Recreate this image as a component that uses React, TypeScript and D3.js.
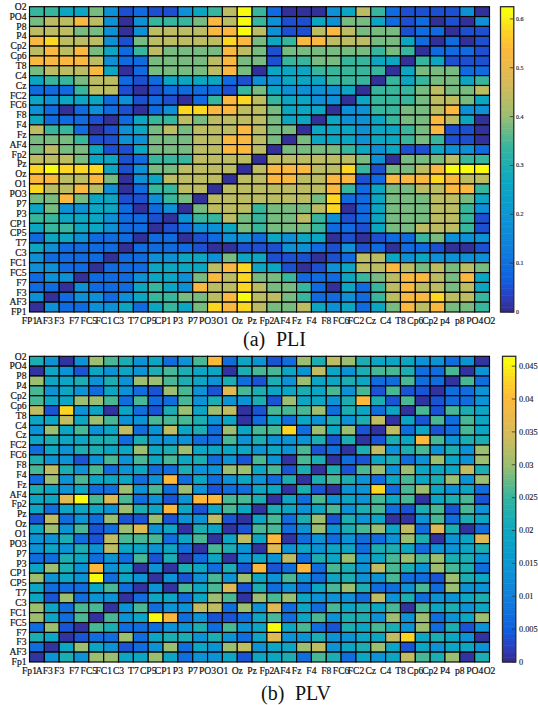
import React from "react";
import * as d3 from "d3";

const pliAxisX = ["FP1","AF3","F3","F7","FC5","FC1","C3","T7","CP5","CP1","P3","P7","PO3","O1","Oz","Pz","Fp2","AF4","Fz","F4","F8","FC6","FC2","Cz","C4","T8","Cp6","Cp2","p4","p8","PO4","O2"];
const pliAxisY = ["O2","PO4","P8","P4","Cp2","Cp6","T8","C4","Cz","FC2","FC6","F8","F4","Fz","AF4","Fp2","Pz","Oz","O1","PO3","P7","P3","CP1","CP5","T7","C3","FC1","FC5","F7","F3","AF3","FP1"];
const plvAxisX = ["Fp1","AF3","F3","F7","FC5","FC1","C3","T7","CP5","CP1","P3","P7","PO3","O1","Oz","Pz","Fp2","AF4","Fz","F4","F8","FC6","FC2","Cz","C4","T8","Cp6","Cp2","P4","p8","PO4","O2"];
const plvAxisY = ["O2","PO4","P8","P4","Cp2","Cp6","T8","C4","Cz","FC2","FC6","F8","F4","Fz","AF4","Fp2","Pz","Oz","O1","PO3","P7","P3","CP1","CP5","T7","C3","FC1","FC5","F7","F3","AF3","Fp1"];

const pliTicks = [0, 0.1, 0.2, 0.3, 0.4, 0.5, 0.6];
const plvTicks = [0, 0.005, 0.01, 0.015, 0.02, 0.025, 0.03, 0.035, 0.04, 0.045];

const pliRows = [
[.34,.34,.26,.26,.38,.18,.05,.09,.05,.05,.18,.26,.34,.44,.62,.34,.09,.01,.01,.01,.18,.26,.44,.34,.09,.05,.05,.05,.05,.18,.01],
[.38,.44,.44,.53,.44,.18,.01,.18,.34,.34,.34,.38,.53,.44,.62,.34,.18,.05,.05,.26,.18,.38,.38,.26,.09,.05,.09,.01,.05,.01,.18],
[.44,.44,.44,.38,.38,.18,.01,.18,.44,.44,.44,.44,.53,.53,.62,.44,.18,.05,.05,.44,.53,.44,.38,.38,.38,.05,.09,.09,.01,.05,.05],
[.53,.58,.44,.44,.44,.18,.05,.38,.44,.44,.44,.44,.44,.58,.53,.38,.26,.34,.53,.53,.44,.44,.44,.38,.38,.26,.09,.01,.09,.01,.05],
[.44,.53,.44,.53,.38,.26,.09,.34,.44,.38,.38,.38,.38,.53,.44,.38,.05,.38,.38,.38,.38,.38,.38,.34,.38,.34,.01,.09,.09,.09,.05],
[.53,.53,.53,.53,.44,.18,.09,.09,.38,.38,.38,.38,.44,.53,.38,.38,.05,.34,.34,.38,.38,.34,.34,.26,.26,.01,.34,.26,.05,.05,.05],
[.38,.44,.44,.44,.53,.26,.01,.09,.38,.38,.38,.38,.44,.53,.38,.01,.26,.26,.26,.34,.34,.34,.34,.34,.01,.26,.38,.38,.38,.09,.09],
[.26,.34,.34,.38,.44,.44,.09,.05,.09,.26,.26,.26,.26,.09,.05,.18,.18,.26,.26,.26,.34,.34,.34,.01,.34,.26,.34,.38,.38,.26,.34],
[.09,.09,.09,.34,.44,.44,.05,.01,.05,.09,.09,.09,.09,.05,.34,.38,.26,.18,.18,.18,.18,.26,.01,.34,.34,.34,.38,.44,.38,.38,.44],
[.26,.18,.26,.26,.26,.09,.18,.05,.09,.05,.01,.09,.34,.53,.58,.44,.34,.26,.26,.18,.18,.01,.26,.34,.34,.34,.38,.44,.44,.38,.26],
[.18,.09,.01,.09,.18,.09,.05,.01,.09,.18,.58,.58,.53,.53,.44,.44,.38,.26,.26,.26,.01,.18,.18,.34,.34,.38,.38,.44,.53,.18,.18],
[.26,.09,.09,.09,.05,.01,.09,.26,.34,.34,.44,.38,.44,.44,.44,.44,.38,.26,.26,.01,.26,.18,.18,.26,.34,.38,.38,.53,.44,.26,.01],
[.44,.34,.34,.09,.01,.05,.18,.26,.38,.44,.38,.44,.44,.44,.53,.44,.38,.38,.01,.26,.26,.26,.18,.26,.26,.34,.38,.53,.05,.05,.01],
[.38,.38,.38,.34,.05,.05,.18,.18,.38,.38,.38,.44,.44,.53,.53,.44,.38,.01,.38,.26,.26,.26,.18,.26,.26,.34,.38,.34,.05,.05,.01],
[.38,.44,.38,.38,.26,.05,.05,.26,.38,.38,.38,.44,.44,.53,.53,.44,.01,.38,.38,.38,.38,.34,.26,.18,.26,.05,.05,.26,.18,.18,.09],
[.44,.44,.44,.38,.26,.26,.05,.09,.34,.34,.34,.44,.44,.44,.44,.01,.44,.44,.44,.44,.44,.44,.38,.18,.01,.38,.38,.38,.44,.34,.34],
[.58,.62,.58,.58,.58,.26,.05,.18,.38,.38,.44,.44,.44,.44,.01,.44,.53,.53,.53,.44,.44,.58,.34,.05,.38,.38,.44,.53,.62,.62,.62],
[.53,.53,.44,.44,.53,.38,.01,.18,.26,.44,.44,.44,.44,.01,.44,.44,.53,.53,.44,.44,.53,.53,.05,.09,.53,.53,.53,.58,.53,.44,.44],
[.58,.44,.44,.53,.44,.18,.01,.09,.34,.34,.44,.44,.01,.44,.44,.44,.44,.44,.44,.44,.53,.34,.09,.26,.38,.38,.44,.44,.53,.53,.34],
[.38,.38,.53,.38,.26,.26,.05,.05,.18,.34,.38,.01,.44,.44,.44,.44,.44,.44,.44,.38,.58,.09,.09,.26,.38,.38,.38,.44,.44,.38,.26],
[.26,.38,.18,.18,.26,.26,.09,.01,.09,.18,.01,.38,.44,.44,.44,.34,.38,.38,.38,.44,.58,.01,.09,.26,.38,.38,.38,.44,.44,.34,.18],
[.34,.34,.26,.26,.26,.18,.09,.09,.05,.01,.18,.34,.34,.44,.38,.34,.38,.38,.44,.34,.18,.05,.09,.26,.38,.38,.38,.44,.44,.34,.05],
[.26,.34,.34,.26,.26,.18,.09,.09,.01,.05,.09,.18,.18,.26,.38,.34,.38,.38,.38,.34,.09,.09,.05,.26,.38,.38,.44,.44,.44,.34,.05],
[.09,.26,.26,.18,.09,.09,.09,.01,.09,.09,.01,.05,.09,.18,.18,.09,.26,.18,.26,.26,.01,.05,.01,.05,.09,.09,.34,.38,.18,.18,.18],
[.26,.18,.09,.09,.09,.09,.01,.09,.09,.09,.09,.05,.01,.01,.05,.05,.05,.18,.18,.09,.05,.18,.05,.09,.01,.09,.09,.05,.01,.01,.05],
[.18,.09,.09,.09,.09,.01,.09,.09,.18,.18,.26,.26,.18,.38,.26,.26,.05,.05,.05,.01,.05,.09,.44,.44,.26,.18,.26,.18,.18,.18,.18],
[.18,.18,.09,.09,.01,.09,.09,.09,.26,.26,.26,.26,.44,.53,.58,.26,.26,.05,.01,.05,.18,.26,.44,.44,.53,.44,.38,.44,.38,.44,.38],
[.09,.18,.18,.01,.09,.09,.09,.18,.26,.26,.18,.38,.53,.44,.58,.38,.38,.34,.09,.09,.09,.26,.34,.38,.44,.53,.53,.44,.38,.53,.26],
[.09,.09,.01,.18,.09,.09,.09,.26,.34,.26,.18,.53,.44,.44,.58,.44,.38,.38,.34,.09,.01,.26,.09,.34,.44,.53,.44,.44,.38,.44,.26],
[.18,.01,.09,.18,.18,.09,.18,.26,.34,.34,.38,.38,.44,.53,.62,.44,.44,.38,.34,.09,.09,.18,.09,.34,.44,.53,.53,.58,.44,.44,.34],
[.01,.18,.09,.09,.18,.18,.26,.09,.26,.34,.26,.38,.58,.53,.58,.44,.38,.38,.44,.26,.18,.26,.09,.26,.38,.53,.44,.53,.38,.38,.34],
];

const plvRows = [
[.022,.014,.001,.014,.03,.026,.022,.014,.019,.007,.014,.026,.04,.007,.019,.014,.004,.007,.03,.022,.033,.03,.022,.019,.019,.019,.014,.014,.007,.014,.001],
[.001,.019,.014,.004,.019,.014,.019,.014,.022,.026,.022,.019,.019,.001,.022,.026,.026,.019,.014,.033,.019,.014,.022,.026,.026,.022,.007,.007,.026,.001,.014],
[.03,.019,.019,.022,.014,.022,.014,.03,.03,.026,.022,.019,.014,.022,.007,.004,.022,.014,.03,.019,.019,.022,.019,.007,.007,.026,.007,.007,.001,.026,.007],
[.026,.014,.019,.014,.007,.019,.014,.007,.004,.03,.026,.014,.004,.036,.026,.022,.019,.019,.022,.019,.026,.014,.026,.004,.026,.004,.004,.001,.007,.007,.014],
[.026,.019,.019,.03,.03,.026,.007,.026,.007,.007,.026,.014,.022,.014,.014,.022,.004,.03,.019,.019,.014,.022,.04,.022,.004,.026,.001,.004,.007,.007,.014],
[.033,.004,.043,.014,.019,.001,.019,.007,.004,.022,.03,.019,.03,.033,.001,.004,.026,.026,.026,.03,.007,.022,.019,.007,.019,.001,.026,.004,.026,.022,.019],
[.019,.019,.033,.019,.03,.026,.014,.014,.026,.026,.026,.022,.014,.019,.001,.007,.019,.007,.019,.014,.022,.014,.022,.033,.001,.019,.004,.026,.007,.026,.019],
[.014,.03,.019,.026,.014,.019,.033,.007,.014,.033,.019,.022,.007,.03,.019,.026,.026,.043,.007,.03,.019,.03,.004,.001,.033,.007,.019,.004,.007,.026,.019],
[.019,.022,.019,.019,.022,.022,.007,.022,.014,.014,.014,.007,.007,.026,.014,.022,.014,.014,.014,.022,.004,.022,.001,.004,.022,.019,.04,.026,.014,.022,.022],
[.007,.019,.014,.022,.022,.019,.019,.03,.019,.022,.03,.019,.019,.019,.019,.014,.019,.014,.026,.004,.007,.001,.022,.033,.014,.022,.026,.014,.022,.014,.03],
[.022,.014,.014,.004,.014,.026,.014,.026,.019,.026,.019,.022,.007,.014,.004,.026,.014,.001,.026,.022,.001,.007,.004,.019,.022,.007,.014,.03,.019,.014,.03],
[.026,.033,.022,.014,.026,.007,.014,.019,.007,.007,.022,.014,.014,.03,.03,.019,.026,.004,.022,.001,.022,.004,.026,.03,.014,.03,.019,.019,.019,.033,.022],
[.007,.03,.014,.026,.019,.019,.019,.007,.014,.04,.007,.019,.007,.014,.019,.014,.007,.022,.001,.022,.026,.022,.014,.007,.019,.026,.019,.022,.03,.014,.03],
[.022,.019,.014,.019,.007,.007,.03,.014,.026,.007,.03,.014,.004,.007,.007,.019,.019,.001,.022,.004,.001,.014,.014,.043,.007,.026,.03,.019,.014,.019,.007],
[.019,.019,.036,.046,.026,.036,.026,.007,.014,.004,.014,.04,.04,.026,.026,.022,.001,.019,.007,.026,.014,.019,.014,.026,.019,.026,.001,.019,.022,.026,.004],
[.019,.007,.019,.019,.019,.014,.03,.022,.019,.04,.019,.004,.019,.026,.019,.001,.022,.019,.014,.019,.026,.014,.022,.026,.007,.004,.022,.026,.004,.026,.014],
[.004,.033,.007,.014,.007,.03,.004,.004,.03,.004,.014,.014,.033,.004,.001,.019,.026,.007,.022,.03,.004,.022,.014,.019,.001,.001,.014,.026,.007,.022,.019],
[.019,.03,.014,.026,.004,.007,.03,.036,.014,.019,.001,.022,.019,.001,.004,.026,.026,.007,.014,.03,.014,.022,.026,.03,.019,.033,.007,.036,.022,.001,.007],
[.014,.014,.022,.007,.004,.033,.026,.026,.026,.007,.019,.026,.001,.019,.033,.019,.04,.001,.007,.014,.007,.014,.007,.007,.014,.03,.022,.001,.014,.019,.036],
[.014,.019,.014,.022,.014,.033,.019,.019,.014,.019,.007,.001,.026,.022,.014,.001,.036,.014,.019,.014,.019,.019,.007,.022,.022,.019,.007,.014,.014,.019,.022],
[.007,.007,.022,.019,.007,.014,.007,.026,.004,.022,.001,.007,.019,.001,.014,.019,.014,.033,.007,.022,.019,.03,.014,.019,.026,.03,.026,.03,.022,.022,.014],
[.019,.03,.022,.014,.04,.014,.019,.001,.014,.001,.022,.019,.007,.022,.004,.04,.004,.007,.04,.007,.026,.022,.014,.033,.026,.022,.014,.03,.026,.022,.007],
[.03,.014,.019,.014,.046,.007,.019,.014,.001,.014,.004,.014,.026,.014,.03,.019,.014,.026,.014,.007,.019,.022,.014,.014,.026,.007,.007,.004,.03,.022,.019],
[.019,.007,.007,.007,.019,.026,.007,.001,.014,.001,.026,.019,.026,.036,.004,.022,.007,.014,.007,.019,.026,.03,.022,.007,.007,.014,.026,.007,.03,.014,.014],
[.019,.004,.03,.007,.014,.014,.001,.007,.019,.019,.007,.019,.03,.026,.001,.03,.026,.03,.019,.014,.014,.014,.007,.033,.014,.022,.007,.014,.014,.019,.022],
[.03,.019,.007,.026,.026,.001,.014,.026,.007,.014,.014,.033,.033,.007,.03,.014,.036,.007,.019,.007,.026,.019,.022,.019,.026,.001,.026,.019,.022,.014,.019],
[.03,.019,.007,.026,.001,.026,.014,.019,.046,.04,.007,.014,.004,.004,.007,.019,.026,.007,.019,.026,.014,.022,.022,.014,.03,.014,.03,.007,.014,.019,.03],
[.007,.03,.004,.001,.026,.022,.007,.007,.007,.014,.014,.022,.007,.026,.014,.019,.046,.019,.026,.007,.004,.022,.019,.026,.022,.014,.03,.007,.022,.004,.014],
[.022,.019,.001,.004,.007,.007,.03,.007,.019,.022,.022,.014,.022,.014,.007,.019,.036,.014,.014,.022,.014,.014,.019,.019,.033,.043,.019,.022,.019,.014,.001],
[.007,.001,.019,.03,.019,.014,.004,.007,.014,.03,.007,.019,.014,.03,.033,.014,.019,.019,.03,.033,.014,.019,.022,.03,.019,.004,.019,.014,.019,.019,.014],
[.001,.014,.022,.014,.03,.03,.019,.019,.03,.019,.007,.014,.014,.019,.004,.019,.019,.022,.007,.026,.022,.007,.019,.014,.019,.033,.026,.022,.03,.001,.022],
];

const paletteStops = [0, 0.05, 0.107, 0.215, 0.32, 0.43, 0.54, 0.645, 0.753, 0.86, 0.92, 0.98, 1];
const paletteColors = ["#352a87","#2a3fc0","#0f60e0","#1080dc","#0b97d4","#0ca8c0","#34b59f","#9bbe70","#d8ba58","#fdb83c","#fcd224","#f9fb0e","#f9fb0e"];
const parula = d3.scaleLinear<string>().domain(paletteStops).range(paletteColors).interpolate(d3.interpolateRgb).clamp(true);

const plotLeft = 29.5;
const plotRight = 489.5;

function Heatmap({ rows, xLabels, yLabels, top, bottom, vmax, ticks, barX, tickSize, tickFmt, labelX }: any) {
  const n = rows.length;
  const x = d3.scaleLinear().domain([0, n]).range([plotLeft, plotRight]);
  const y = d3.scaleLinear().domain([0, n]).range([top, bottom]);
  const color = d3.scaleLinear().domain([0, vmax]).range([0, 1]);
  const v = d3.scaleLinear().domain([0, vmax]).range([bottom, top]);
  const barWidth = 13.3;
  const barSteps = d3.range(0, 128);
  return (
    <g>
      {rows.map((row: number[], r: number) =>
        row.map((val: number, c: number) => (
          <rect key={`${r}-${c}`} x={x(c)} y={y(r)} width={x(c + 1) - x(c)} height={y(r + 1) - y(r)}
            fill={parula(color(val))} stroke="#000" strokeWidth={1.15} />
        ))
      )}
      {xLabels.map((l: string, i: number) => (
        <text key={l + i} x={x(i)} y={bottom + 12} textAnchor="middle" fontSize={9.6} fill="#111" stroke="#111" strokeWidth={0.2}>{l}</text>
      ))}
      {yLabels.map((l: string, i: number) => (
        <text key={l + i} x={26.5} y={y(i) + 3.2} textAnchor="end" fontSize={9.6} fill="#111" stroke="#111" strokeWidth={0.2}>{l}</text>
      ))}
      {barSteps.map((s) => {
        const a = (s / 128) * vmax;
        const b = ((s + 1) / 128) * vmax;
        return <rect key={s} x={barX} y={v(b)} width={barWidth} height={v(a) - v(b) + 0.5} fill={parula(color((a + b) / 2))} />;
      })}
      <rect x={barX} y={top} width={barWidth} height={bottom - top} fill="none" stroke="#2a2a2a" strokeWidth={1.3} />
      {ticks.map((t: number) => (
        <g key={t}>
          <line x1={barX + barWidth - 4} x2={barX + barWidth} y1={v(t)} y2={v(t)} stroke="#333" strokeWidth={0.8} />
          <text x={labelX} y={v(t) + tickSize * 0.33} fontSize={tickSize} fill="#222" stroke="#222" strokeWidth={0.15}>{tickFmt(t)}</text>
        </g>
      ))}
    </g>
  );
}

export default function App() {
  const fmt = (t: number) => String(t);
  return (
    <svg width={538} height={705} style={{ position: "absolute", left: 0, top: 0, fontFamily: "'Liberation Serif', serif", background: "#fff" }}>
      <Heatmap rows={pliRows} xLabels={pliAxisX} yLabels={pliAxisY} top={6.7} bottom={312} vmax={0.625} ticks={pliTicks}
        barX={500.5} tickSize={6} tickFmt={fmt} labelX={516} />
      <Heatmap rows={plvRows} xLabels={plvAxisX} yLabels={plvAxisY} top={356.3} bottom={662} vmax={0.0465} ticks={plvTicks}
        barX={502.5} tickSize={8.3} tickFmt={fmt} labelX={519} />
      <text x={243} y={346} fontSize={20} fill="#111">(a)</text>
      <text x={276} y={346} fontSize={20} fill="#111">PLI</text>
      <text x={261} y={700} fontSize={20} fill="#111">(b)</text>
      <text x={295} y={700} fontSize={20} fill="#111">PLV</text>
    </svg>
  );
}
